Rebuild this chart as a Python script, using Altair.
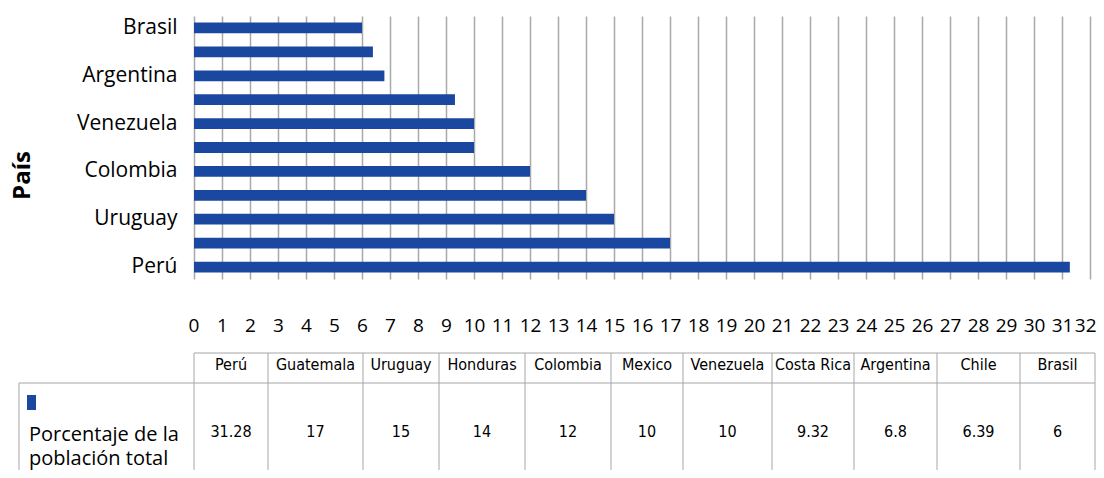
import altair as alt
import pandas as pd

# ---------------- data ----------------
countries = ["Perú", "Guatemala", "Uruguay", "Honduras", "Colombia", "Mexico",
             "Venezuela", "Costa Rica", "Argentina", "Chile", "Brasil"]
values = [31.28, 17, 15, 14, 12, 10, 10, 9.32, 6.8, 6.39, 6]
value_labels = ["31.28", "17", "15", "14", "12", "10", "10", "9.32", "6.8", "6.39", "6"]
y_axis_labels = ["Brasil", "Argentina", "Venezuela", "Colombia", "Uruguay", "Perú"]
x_ticks = list(range(0, 33))
y_title = "País"
series_name_lines = ["Porcentaje de la", "población total"]

# ---------------- layout / style ----------------
BLUE = "#1a479f"
GRID = "#a9a9a9"
TABLE_LINE = "#a6a6a6"
col_widths = [74, 95, 76, 86, 86, 72, 89, 82, 83, 83, 75]   # px, data-table columns
PLOT_W, PLOT_H = 896, 263
TABLE_FONT = "DejaVu Sans Condensed"
MAIN_FONT = "Open Sans"

# y positions (relative to plot origin) of the data table
Y_HEAD_TOP = 337
Y_HEAD_BOT = 367
Y_HEAD_TXT = 349
Y_VAL_TXT = 416
Y_BOTTOM = 460
LEGEND_LEFT = -175

edges = [0]
for w in col_widths:
    edges.append(edges[-1] + w)
centers = [(edges[i] + edges[i + 1]) / 2 for i in range(len(col_widths))]

df = pd.DataFrame({"País": countries, "valor": values})
table_df = pd.DataFrame({"País": countries, "etiqueta": value_labels, "xc": centers})
edge_df = pd.DataFrame({"edge": edges})
hline_df = pd.DataFrame({"x0": [0, LEGEND_LEFT], "x1": [edges[-1], edges[-1]],
                         "yy": [Y_HEAD_TOP, Y_HEAD_BOT]})
legend_df = pd.DataFrame({"line": series_name_lines, "i": [0, 1]})

bars = alt.Chart(df).mark_bar(color=BLUE).encode(
    x=alt.X("valor:Q",
            scale=alt.Scale(domain=[0, 32], nice=False, zero=True),
            axis=alt.Axis(values=x_ticks, grid=True, gridColor=GRID, gridWidth=1.5,
                          domain=False, ticks=False, tickSize=0, labelPadding=37,
                          labelFont=MAIN_FONT, labelFontSize=19, labelColor="#000",
                          labelOverlap=False, labelFlush=True, labelFlushOffset=6,
                          title=None)),
    y=alt.Y("País:N", sort=list(reversed(countries)),
            scale=alt.Scale(paddingInner=0.55, paddingOuter=0.275),
            axis=alt.Axis(values=y_axis_labels, domain=False, ticks=False, tickSize=0,
                          labelPadding=17, labelFont=MAIN_FONT, labelFontSize=21,
                          labelColor="#000", grid=False,
                          title=y_title, titleFont=MAIN_FONT, titleFontSize=24,
                          titleFontWeight="bold", titleColor="#000", titleAngle=270,
                          titleX=-172, titleY=159, titleAlign="center",
                          titleBaseline="middle")),
)

vlines = alt.Chart(edge_df).mark_rule(color=TABLE_LINE, strokeWidth=1).encode(
    x=alt.X("edge:Q", scale=None),
    y=alt.value(Y_HEAD_TOP), y2=alt.value(Y_BOTTOM),
)

hlines = alt.Chart(hline_df).mark_rule(color=TABLE_LINE, strokeWidth=1).encode(
    x=alt.X("x0:Q", scale=None), x2="x1:Q",
    y=alt.Y("yy:Q", scale=None, axis=None),
)

left_line = alt.Chart(pd.DataFrame({"lx": [LEGEND_LEFT]})).mark_rule(
    color=TABLE_LINE, strokeWidth=1).encode(
    x=alt.X("lx:Q", scale=None),
    y=alt.value(Y_HEAD_BOT), y2=alt.value(Y_BOTTOM),
)

head_text = alt.Chart(table_df).mark_text(
    font=TABLE_FONT, fontSize=16, color="#000", align="center", baseline="middle"
).encode(x=alt.X("xc:Q", scale=None), y=alt.value(Y_HEAD_TXT), text="País:N")

val_text = alt.Chart(table_df).mark_text(
    font=TABLE_FONT, fontSize=16, color="#000", align="center", baseline="middle"
).encode(x=alt.X("xc:Q", scale=None), y=alt.value(Y_VAL_TXT), text="etiqueta:N")

swatch = alt.Chart(pd.DataFrame({"s": [series_name_lines[1]]})).mark_rect(color=BLUE).encode(
    x=alt.value(-167), x2=alt.value(-158), y=alt.value(379), y2=alt.value(394),
)

legend_text = alt.Chart(legend_df).mark_text(
    font=MAIN_FONT, fontSize=20, color="#000", align="left", baseline="middle"
).encode(
    x=alt.value(-165),
    y=alt.Y("i:Q", scale=alt.Scale(domain=[0, 1], range=[419, 443]), axis=None),
    text="line:N",
)

chart = alt.layer(bars, vlines, hlines, left_line, head_text, val_text, swatch,
                  legend_text).resolve_scale(y="independent").properties(
    width=PLOT_W, height=PLOT_H,
    autosize=alt.AutoSizeParams(type="none"),
    padding={"left": 186, "top": 8, "right": 6, "bottom": 191},
).configure_view(stroke=None).configure_axis(labelOverlap=False)

chart.save("out.html", embed_options={"renderer": "svg", "actions": False})
